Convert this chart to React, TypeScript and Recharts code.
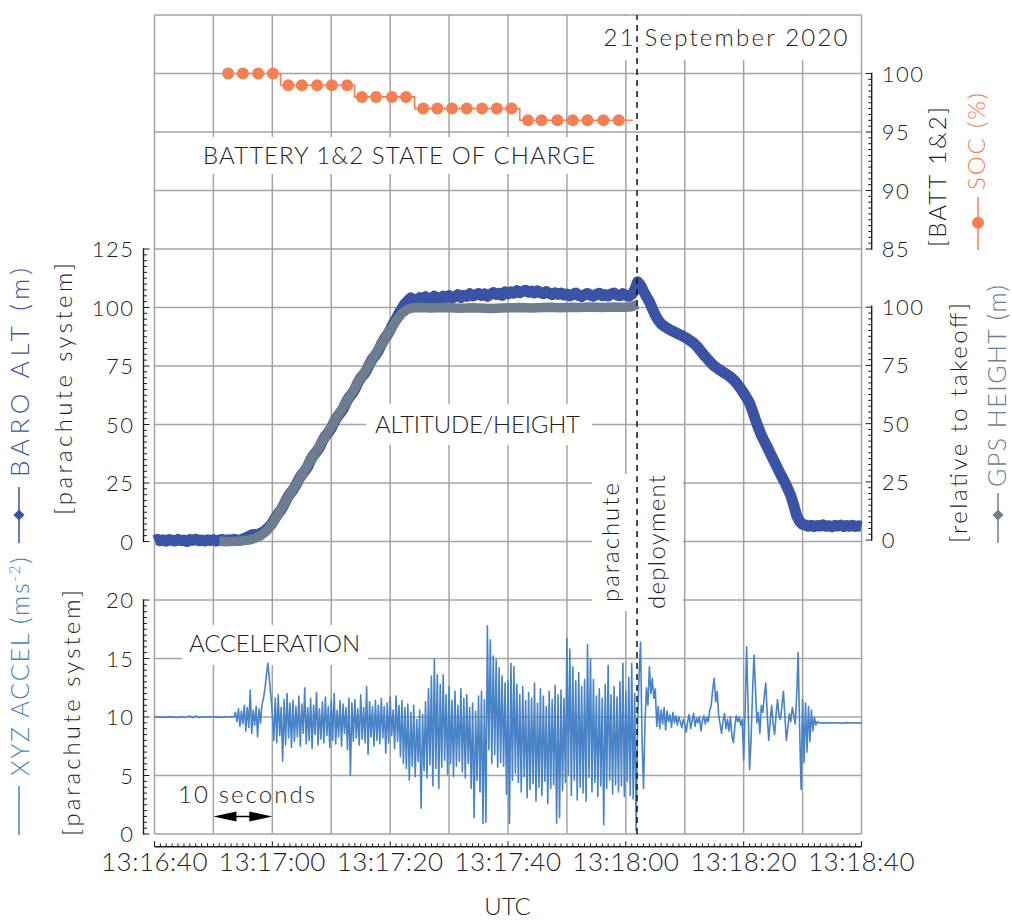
import React from "react";
import { Line, LineChart, ReferenceLine, XAxis, YAxis } from "recharts";

// ---------- data ----------
const timeLabels = ["13:16:40", "13:17:00", "13:17:20", "13:17:40", "13:18:00", "13:18:20", "13:18:40"];
const gridSeconds = [0, 10, 20, 30, 40, 50, 60, 70, 80, 90, 100, 110, 120];
const gridRows = [0, 1, 2, 3, 4, 5, 6, 7, 8, 9, 10, 11, 12, 13, 14];
const altTicks = [0, 25, 50, 75, 100, 125];
const gpsTicks = [0, 25, 50, 75, 100];
const socTicks = [85, 90, 95, 100];
const accelTicks = [0, 5, 10, 15, 20];

// seconds after 13:16:40
const DEPLOY_T = 81.9;

// battery state of charge, one sample about every 2.5 s
const socTime = [
  12.5, 15.0, 17.6, 20.1, 22.7, 25.0, 27.6, 30.1, 32.7, 35.2, 37.6, 40.3, 42.7, 45.6,
  48.0, 50.5, 53.0, 55.6, 58.1, 60.6, 63.4, 65.7, 68.4, 71.0, 73.5, 76.2, 78.8, 81.2,
];
const socValue = [
  100, 100, 100, 100, 99, 99, 99, 99, 99, 98, 98, 98, 98, 97,
  97, 97, 97, 97, 97, 97, 96, 96, 96, 96, 96, 96, 96, 96,
];

// barometric altitude, t = 0..120 s every 0.5 s (one row = 10 s)
const baroAlt = [
  0.4, 0.9, 0.3, 0.7, 0.1, 0.8, 0.5, 0.2, 0.9, 0.4, 0.6, 0.0, 0.8, 0.5, 1.0, 0.3, 0.6, 0.2, 0.7, 0.4,
  0.8, 0.2, 0.6, 0.9, 0.3, 0.7, 0.4, 1.0, 0.6, 0.5, 1.1, 1.6, 2.2, 2.9, 3.0, 2.8, 3.6, 4.1, 5.2, 6.4,
  8.0, 10.1, 12.0, 13.6, 15.9, 18.4, 20.4, 22.0, 24.1, 26.6, 28.6, 30.1, 32.0, 34.8, 36.9, 38.4, 40.2, 42.9, 45.1, 46.5,
  48.4, 51.0, 53.3, 54.8, 56.6, 59.3, 61.5, 63.0, 65.0, 67.7, 69.9, 71.3, 73.2, 75.9, 78.1, 79.6, 81.6, 84.2, 86.5, 88.2,
  90.4, 93.0, 95.0, 97.6, 99.6, 101.6, 102.8, 104.1, 103.5, 103.0, 104.2, 103.4, 104.6, 103.9, 103.2, 104.8, 104.1, 103.6, 104.9, 104.3,
  105.1, 104.0, 104.6, 105.5, 104.3, 105.2, 104.7, 105.9, 104.9, 105.4, 106.0, 105.1, 105.8, 104.8, 105.6, 106.4, 105.5, 106.1, 105.2, 106.6,
  105.8, 106.7, 106.1, 107.2, 106.3, 106.9, 107.4, 106.5, 107.0, 106.2, 107.1, 106.4, 105.9, 106.8, 106.0, 105.5, 106.3, 105.6, 106.2, 105.3,
  105.8, 104.9, 105.6, 106.2, 105.1, 104.7, 105.5, 106.0, 105.2, 104.8, 105.7, 106.1, 105.0, 105.5, 104.9, 105.8, 106.2, 105.3, 105.0, 105.9,
  105.2, 104.8, 105.6, 107.5, 111.0, 109.5, 107.0, 104.6, 102.5, 99.5, 96.8, 94.6, 93.0, 92.0, 91.2, 90.5, 89.8, 89.2, 88.6, 88.0,
  87.3, 86.6, 85.7, 84.8, 83.6, 82.1, 80.5, 79.0, 77.6, 76.2, 75.0, 74.1, 73.2, 72.4, 71.6, 70.8, 69.8, 68.6, 67.0, 65.3,
  63.4, 61.4, 59.2, 55.8, 52.0, 48.6, 45.4, 42.9, 40.4, 37.8, 35.2, 32.6, 30.0, 27.6, 25.2, 22.5, 19.6, 15.5, 11.0, 8.6,
  7.3, 7.0, 6.5, 6.9, 6.4, 6.8, 6.6, 7.1, 6.5, 6.7, 6.3, 6.9, 6.6, 7.0, 6.4, 6.8, 6.5, 6.9, 6.4, 6.7,
  6.5,
];

// GPS height, t = 11..82 s every 1 s
const GPS_START = 11;
const gpsHeight = [
  -0.5, -0.6, -0.6, -0.5, -0.3, 0.0, 0.7, 1.9, 3.9, 7.2,
  11.3, 15.5, 19.7, 23.8, 28.0, 32.1, 36.3, 40.4, 44.6, 48.7,
  52.9, 57.0, 61.2, 65.3, 69.5, 73.6, 77.8, 81.9, 86.0, 90.2,
  94.1, 97.4, 99.2, 99.8, 99.9, 99.8, 99.7, 99.8, 99.9, 99.8,
  99.7, 99.6, 99.7, 99.8, 99.7, 99.6, 99.5, 99.6, 99.7, 99.8,
  99.8, 99.9, 99.8, 99.7, 99.8, 99.9, 100.0, 99.9, 99.8, 99.9,
  100.0, 99.9, 100.0, 100.1, 100.0, 99.9, 100.0, 100.1, 100.0, 100.0, 100.2, 101.2,
];

// acceleration: quiet before takeoff (0..13 s, 0.5 s)
const accelQuiet = [
  10.0, 10.02, 9.97, 10.01, 9.98, 10.03, 9.99, 10.0, 9.96, 10.04, 9.98, 10.02, 10.08, 9.94,
  10.1, 9.95, 10.03, 9.98, 10.02, 9.97, 10.04, 9.99, 10.01, 9.97, 10.03, 9.98, 10.05,
];
// flight, 13.5..113.25 s every 0.25 s (one row = 5 s)
const accelFlight = [
  10.0, 10.4, 9.6, 10.7, 9.2, 10.5, 9.4, 11.0, 8.8, 10.8, 9.1, 12.3, 8.6, 10.6, 9.3, 10.9, 8.3, 10.7, 9.5, 11.1,
  11.6, 12.4, 13.6, 14.6, 13.2, 11.8, 10.2, 8.0, 11.6, 7.8, 11.9, 8.4, 10.8, 6.2, 11.5, 7.6, 12.0, 8.2, 11.2, 7.4,
  11.4, 7.9, 10.9, 8.3, 11.8, 7.5, 11.1, 8.6, 12.5, 7.7, 10.8, 8.0, 11.6, 7.3, 11.0, 8.5, 12.1, 7.6, 10.7, 8.1,
  11.3, 7.8, 11.7, 8.4, 10.9, 7.4, 11.5, 8.0, 12.0, 7.7, 10.6, 8.3, 11.4, 7.5, 11.1, 8.6, 10.8, 7.2, 11.6, 5.0,
  11.2, 7.9, 11.5, 8.2, 10.7, 7.6, 11.9, 8.1, 10.8, 7.8, 12.6, 6.8, 11.3, 8.3, 10.9, 7.5, 11.4, 8.0, 11.0, 7.7,
  11.6, 8.2, 10.9, 6.9, 11.2, 7.8, 11.7, 8.4, 10.6, 7.3, 11.8, 7.9, 11.0, 6.6, 11.4, 6.0, 10.8, 5.6, 11.1, 4.6,
  10.4, 5.8, 11.0, 4.9, 9.8, 6.2, 10.6, 2.2, 10.2, 5.4, 11.3, 4.8, 12.4, 5.9, 13.5, 4.1, 14.9, 5.6, 13.6, 3.9,
  12.8, 5.7, 13.6, 6.3, 11.9, 5.1, 12.6, 6.0, 11.4, 4.9, 12.2, 5.8, 11.0, 6.2, 12.4, 5.3, 11.6, 4.8, 11.9, 6.0,
  10.8, 3.9, 11.2, 1.4, 10.5, 4.6, 11.8, 3.6, 12.2, 0.9, 11.5, 1.0, 17.8, 7.2, 16.6, 6.0, 15.2, 6.8, 14.9, 5.7,
  14.2, 6.1, 13.5, 5.8, 12.9, 3.4, 13.1, 0.9, 14.6, 4.6, 14.3, 5.2, 12.8, 4.4, 11.9, 3.6, 12.6, 4.9, 11.4, 3.1,
  12.1, 3.8, 11.6, 4.3, 12.9, 2.8, 11.2, 4.0, 12.4, 3.3, 11.8, 4.5, 10.9, 2.6, 12.2, 3.9, 11.5, 4.2, 12.7, 0.9,
  11.9, 1.4, 12.3, 3.7, 11.6, 4.4, 16.7, 5.1, 15.8, 3.3, 14.3, 4.6, 13.1, 2.9, 13.8, 4.0, 12.6, 3.5, 13.2, 2.8,
  16.2, 4.8, 15.0, 3.6, 13.2, 4.4, 11.8, 3.2, 12.4, 4.1, 11.6, 0.8, 12.8, 3.9, 14.4, 4.6, 11.9, 3.4, 12.6, 4.2,
  11.7, 3.6, 13.0, 4.1, 14.6, 3.2, 12.2, 4.5, 13.4, 3.3, 14.6, 3.0, 12.0, 0.3, 9.8, 13.5, 16.4, 8.0, 3.9, 9.5,
  12.5, 11.0, 14.3, 12.0, 13.3, 11.6, 12.4, 9.2, 10.9, 9.0, 10.6, 9.4, 10.8, 8.9, 10.5, 9.6, 10.2, 9.1, 10.4, 9.5,
  10.1, 9.3, 10.0, 9.6, 9.1, 9.8, 9.4, 8.7, 9.6, 10.2, 9.0, 9.7, 10.3, 9.2, 9.9, 9.5, 10.0, 8.8, 9.7, 10.1,
  9.4, 10.0, 9.6, 10.6, 11.0, 12.4, 13.3, 11.3, 12.2, 10.2, 9.4, 8.6, 9.7, 10.3, 9.0, 9.8, 8.8, 10.0, 8.4, 7.8,
  9.2, 10.1, 9.6, 10.0, 9.3, 9.8, 6.3, 10.5, 16.0, 11.0, 5.5, 8.0, 12.0, 15.3, 12.5, 9.5, 10.4, 8.6, 11.0, 10.4,
  11.8, 12.9, 10.2, 8.0, 9.6, 11.0, 9.4, 8.5, 10.2, 11.5, 10.1, 9.8, 11.0, 12.2, 10.0, 8.0, 9.1, 10.3, 9.6, 10.8,
  10.2, 9.4, 11.8, 15.5, 9.0, 3.8, 11.5, 6.1, 11.2, 7.0, 10.9, 7.9, 10.6, 8.8, 10.0, 9.3, 9.6, 9.5, 9.5, 9.5,
];
// after landing, 113.5..120 s every 0.5 s
const accelLanded = [9.5, 9.48, 9.52, 9.49, 9.51, 9.5, 9.47, 9.5, 9.52, 9.49, 9.5, 9.51, 9.48, 9.5];

// ---------- layout ----------
const W = 1012;
const H = 920;
const PL = 154.5;
const PR = 861.5;
const PT = 15;
const ROW = 58.5;
const PB = PT + 14 * ROW;
const T_MAX = 120;
const X_AXIS_Y = 846.7;

const FONT = "Lato, 'Noto Sans', sans-serif";
const INK = "#1e1e1e";
const GRID = "#a3a3a3";
const BARO = "#3a53a4";
const GPS = "#6f7e8e";
const ACCEL = "#4783c6";
const SOC = "#f47f52";

const abs: React.CSSProperties = { position: "absolute", left: 0, top: 0 };

const baroData = baroAlt.map((v, i) => ({ t: i * 0.5, v }));
const gpsData = gpsHeight.map((v, i) => ({ t: GPS_START + i, v }));
const socData = socTime.map((t, i) => ({ t, v: socValue[i] }));
const accelData = [
  ...accelQuiet.map((v, i) => ({ t: i * 0.5, v })),
  ...accelFlight.map((v, i) => ({ t: 13.5 + i * 0.25, v })),
  ...accelLanded.map((v, i) => ({ t: 113.5 + i * 0.5, v })),
];
// corners of the frame, so that charts without a series still get their scales
const frameRows = [
  { t: 0, r: 0 },
  { t: T_MAX, r: 14 },
];

function withMinor(majors: number[], perMajor: number) {
  const step = (majors[1] - majors[0]) / perMajor;
  const out: number[] = [];
  for (let i = 0; i <= (majors.length - 1) * perMajor; i++) out.push(majors[0] + i * step);
  return out;
}

const tickFont = { fontFamily: FONT, fontWeight: 300, fill: INK };

function makeYTick(side: "left" | "right", majors: number[], axisLen: number, gap: number) {
  return (p: any) => {
    const v = p.payload.value;
    const ax = side === "left" ? p.x - gap : p.x + gap;
    const dir = side === "left" ? 1 : -1;
    const major = majors.includes(v);
    return (
      <g>
        {v === majors[0] && (
          <line x1={ax} x2={ax} y1={p.y + 0.7} y2={p.y - axisLen - 0.7} stroke={INK} strokeWidth={1.4} />
        )}
        <line x1={ax} x2={ax + dir * (major ? 6 : 3.5)} y1={p.y} y2={p.y} stroke={INK} strokeWidth={1} />
        {major && (
          <text
            x={side === "left" ? ax - 9 : ax + 10}
            y={p.y + 8}
            textAnchor={side === "left" ? "end" : "start"}
            fontSize={22}
            letterSpacing={1.5}
            {...tickFont}
          >
            {v}
          </text>
        )}
      </g>
    );
  };
}

const xTick = (p: any) => {
  const v = p.payload.value;
  const major = v % 20 === 0;
  return (
    <g>
      <line x1={p.x} x2={p.x} y1={p.y} y2={p.y - (major ? 5.5 : 3.3)} stroke={INK} strokeWidth={1} />
      {major && (
        <text x={p.x} y={p.y + 24.5} textAnchor="middle" fontSize={26} letterSpacing={0.5} {...tickFont}>
          {timeLabels[v / 20]}
        </text>
      )}
    </g>
  );
};

const arrowShape = (p: any) => {
  const { x1, x2, y1 } = p;
  return (
    <g>
      <line x1={x1 + 10} x2={x2 - 10} y1={y1} y2={y1} stroke="#000" strokeWidth={1.5} />
      <polygon points={`${x1},${y1} ${x1 + 23},${y1 - 5} ${x1 + 23},${y1 + 5}`} fill="#000" />
      <polygon points={`${x2},${y1} ${x2 - 23},${y1 - 5} ${x2 - 23},${y1 + 5}`} fill="#000" />
    </g>
  );
};

function VText(props: { x: number; y: number; len?: number; size?: number; fill?: string; children: React.ReactNode }) {
  const { x, y, len, size = 24, fill = INK, children } = props;
  return (
    <text
      x={x}
      y={y}
      transform={`rotate(-90 ${x} ${y})`}
      fill={fill}
      fontSize={size}
      textLength={len}
      lengthAdjust={len ? "spacing" : undefined}
    >
      {children}
    </text>
  );
}

const diamond = (cx: number, cy: number, r: number) =>
  `${cx},${cy - r} ${cx + r},${cy} ${cx},${cy + r} ${cx - r},${cy}`;

const hiddenX = <XAxis type="number" dataKey="t" domain={[0, T_MAX]} hide />;
const frameLine = (
  <Line data={frameRows} dataKey="r" stroke="none" dot={false} activeDot={false} isAnimationActive={false} />
);

export default function App() {
  const lastSoc = socTime.length - 1;
  return (
    <div style={{ position: "absolute", left: 0, top: 0, width: W, height: H, background: "#fff" }}>
      {/* grid */}
      <LineChart
        width={W}
        height={H}
        style={abs}
        data={frameRows}
        margin={{ top: PT, right: W - PR, bottom: H - PB, left: PL }}
      >
        {hiddenX}
        <YAxis type="number" dataKey="r" domain={[0, 14]} hide />
        {frameLine}
        {gridSeconds.map((t) => (
          <ReferenceLine key={`v${t}`} x={t} stroke={GRID} strokeWidth={1.5} />
        ))}
        {gridRows.map((r) => (
          <ReferenceLine key={`h${r}`} y={r} stroke={GRID} strokeWidth={1.5} />
        ))}
      </LineChart>

      {/* label backgrounds */}
      <svg width={W} height={H} style={abs}>
        <g fill="#fff">
          <rect x={596} y={16} width={264.5} height={44} />
          <rect x={190} y={137} width={416} height={37} />
          <rect x={366} y={404} width={226} height={41} />
          <rect x={182} y={625} width={186} height={40} />
          <rect x={592} y={474} width={91} height={137} />
        </g>
      </svg>

      {/* battery */}
      <LineChart
        width={W}
        height={H}
        style={abs}
        data={socData}
        margin={{ top: PT + ROW, right: W - PR - 10, bottom: H - (PT + 4 * ROW), left: PL }}
      >
        {hiddenX}
        <YAxis
          orientation="right"
          type="number"
          domain={[85, 100]}
          ticks={withMinor(socTicks, 10)}
          interval={0}
          width={10}
          tickSize={0}
          tickMargin={0}
          axisLine={false}
          tickLine={false}
          tick={makeYTick("right", socTicks, 3 * ROW, 10.2)}
        />
        <Line
          type="step"
          dataKey="v"
          stroke={SOC}
          strokeWidth={1.6}
          isAnimationActive={false}
          dot={(p: any) =>
            p.index === lastSoc ? (
              <g key={p.index} />
            ) : (
              <circle key={p.index} cx={p.cx} cy={p.cy} r={6} fill={SOC} />
            )
          }
        />
      </LineChart>

      {/* altitude / height */}
      <LineChart
        width={W}
        height={H}
        style={abs}
        margin={{ top: PT + 4 * ROW, right: W - PR - 10, bottom: H - (PT + 9 * ROW), left: PL - 10 }}
      >
        {hiddenX}
        <YAxis
          yAxisId="alt"
          type="number"
          domain={[0, 125]}
          ticks={withMinor(altTicks, 10)}
          interval={0}
          width={10}
          tickSize={0}
          tickMargin={0}
          axisLine={false}
          tickLine={false}
          tick={makeYTick("left", altTicks, 5 * ROW, 11)}
        />
        <YAxis
          yAxisId="gps"
          orientation="right"
          type="number"
          domain={[0, 125]}
          ticks={withMinor(gpsTicks, 10)}
          interval={0}
          width={10}
          tickSize={0}
          tickMargin={0}
          axisLine={false}
          tickLine={false}
          tick={makeYTick("right", gpsTicks, 4 * ROW, 10.2)}
        />
        <Line
          yAxisId="alt"
          data={baroData}
          dataKey="v"
          type="linear"
          stroke={BARO}
          strokeWidth={11}
          strokeLinejoin="round"
          dot={false}
          isAnimationActive={false}
        />
        <Line
          yAxisId="gps"
          data={gpsData}
          dataKey="v"
          type="linear"
          stroke={GPS}
          strokeWidth={9.5}
          strokeLinejoin="round"
          dot={false}
          isAnimationActive={false}
        />
      </LineChart>

      {/* acceleration */}
      <LineChart
        width={W}
        height={H}
        style={abs}
        data={accelData}
        margin={{ top: PT + 10 * ROW, right: W - PR, bottom: H - PB, left: PL - 10 }}
      >
        {hiddenX}
        <YAxis
          type="number"
          domain={[0, 20]}
          ticks={withMinor(accelTicks, 10)}
          interval={0}
          width={10}
          tickSize={0}
          tickMargin={0}
          axisLine={false}
          tickLine={false}
          tick={makeYTick("left", accelTicks, 4 * ROW, 11)}
        />
        <ReferenceLine
          segment={[
            { x: 10, y: 1.5 },
            { x: 20, y: 1.5 },
          ]}
          shape={arrowShape}
        />
        <Line
          dataKey="v"
          type="linear"
          stroke={ACCEL}
          strokeWidth={1.6}
          strokeLinejoin="round"
          dot={false}
          isAnimationActive={false}
        />
      </LineChart>

      {/* parachute deployment marker */}
      <LineChart
        width={W}
        height={H}
        style={abs}
        data={frameRows}
        margin={{ top: PT, right: W - PR, bottom: H - PB, left: PL }}
      >
        {hiddenX}
        <YAxis type="number" dataKey="r" domain={[0, 14]} hide />
        {frameLine}
        <ReferenceLine x={DEPLOY_T} stroke="#111" strokeWidth={1.5} strokeDasharray="6 5" />
      </LineChart>

      {/* time axis */}
      <LineChart
        width={W}
        height={H}
        style={abs}
        data={frameRows}
        margin={{ top: PT, right: W - PR, bottom: H - X_AXIS_Y - 40, left: PL }}
      >
        <XAxis
          type="number"
          dataKey="t"
          domain={[0, T_MAX]}
          ticks={withMinor([0, 20, 40, 60, 80, 100, 120], 20)}
          interval={0}
          height={40}
          tickSize={0}
          tickMargin={0}
          axisLine={{ stroke: INK, strokeWidth: 1.4 }}
          tickLine={false}
          tick={xTick}
        />
        <YAxis type="number" dataKey="r" domain={[0, 14]} hide />
        {frameLine}
      </LineChart>

      {/* titles and axis names */}
      <svg width={W} height={H} style={{ ...abs, fontFamily: FONT, fontWeight: 300 }}>
        <g fill={INK} fontSize={24}>
          <text x={603.5} y={46} textLength={244} lengthAdjust="spacing">21 September 2020</text>
          <text x={203} y={164} textLength={392} lengthAdjust="spacing">BATTERY 1&amp;2 STATE OF CHARGE</text>
          <text x={375} y={432.5} textLength={205} lengthAdjust="spacing">ALTITUDE/HEIGHT</text>
          <text x={189} y={651.5} textLength={171} lengthAdjust="spacing">ACCELERATION</text>
          <text x={178} y={802.5} textLength={137} lengthAdjust="spacing">10 seconds</text>
          <text x={507.5} y={915} textAnchor="middle">UTC</text>
        </g>
        <VText x={618.5} y={602} len={119}>parachute</VText>
        <VText x={665} y={609} len={134}>deployment</VText>

        {/* left side */}
        <line x1={19} x2={19} y1={487} y2={543} stroke={BARO} strokeWidth={1.5} />
        <polygon points={diamond(19, 515, 5.5)} fill={BARO} />
        <VText x={28.5} y={477} len={209} size={26} fill={BARO}>BARO ALT (m)</VText>
        <VText x={72} y={515} len={252}>[parachute system]</VText>

        <line x1={19} x2={19} y1={786} y2={835} stroke={ACCEL} strokeWidth={1.5} />
        <text x={28.5} y={776} transform="rotate(-90 28.5 776)" fill={ACCEL} fontSize={25} letterSpacing={1.8}>
          XYZ ACCEL (ms
          <tspan dy={-9} fontSize={15}>-2</tspan>
          <tspan dy={9}>)</tspan>
        </text>
        <VText x={80} y={836} len={246}>[parachute system]</VText>

        {/* right side */}
        <VText x={946} y={247} len={140}>[BATT 1&amp;2]</VText>
        <line x1={978} x2={978} y1={197} y2={250} stroke={SOC} strokeWidth={1.5} />
        <circle cx={978} cy={222.7} r={6} fill={SOC} />
        <VText x={985} y={190} len={97} fill={SOC}>SOC (%)</VText>

        <VText x={967} y={543} len={240}>[relative to takeoff]</VText>
        <line x1={998} x2={998} y1={493} y2={543} stroke={GPS} strokeWidth={1.5} />
        <polygon points={diamond(998, 515, 5.5)} fill={GPS} />
        <VText x={1006} y={487} len={202} size={25} fill={GPS}>GPS HEIGHT (m)</VText>
      </svg>
    </div>
  );
}
